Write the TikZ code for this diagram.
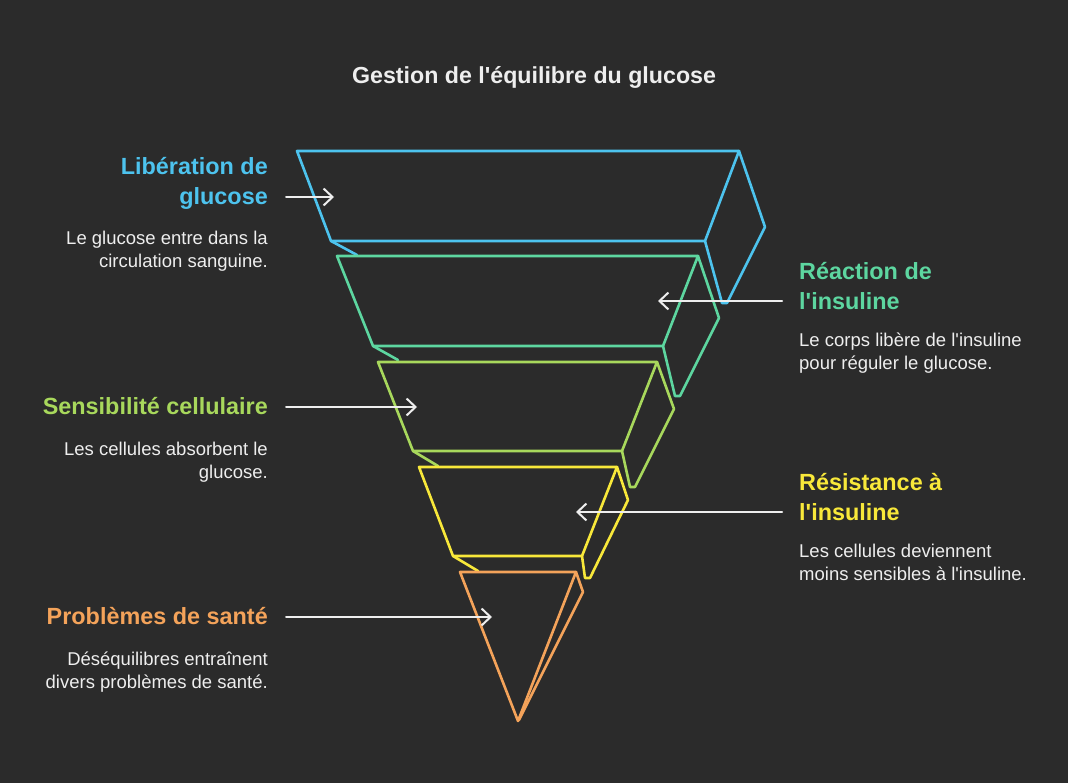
\documentclass[tikz,border=0pt]{standalone}
\usepackage{fontspec}
\setmainfont{Liberation Sans}[Ligatures=TeXOff]
\usetikzlibrary{arrows.meta}

\definecolor{bgcol}{HTML}{2B2B2B}
\definecolor{txtcol}{HTML}{EEEEEE}
\definecolor{blueL}{HTML}{4DC3EE}
\definecolor{greenL}{HTML}{5DD6A0}
\definecolor{limeL}{HTML}{A8D85C}
\definecolor{yellowL}{HTML}{F8E83A}
\definecolor{orangeL}{HTML}{F4A35A}

\begin{document}
\begin{tikzpicture}[x=1pt,y=-1pt,>={Straight Barb[length=9pt,width=17pt]},line join=round,line cap=round]
  \tikzstyle{layer}=[line width=2.6pt]
  \tikzstyle{pointer}=[->,draw=txtcol,line width=2pt]
  \tikzstyle{title}=[text=txtcol,font=\fontsize{23.2}{27}\selectfont\bfseries]
  \tikzstyle{head}=[inner sep=0pt,font=\fontsize{23.4}{30}\selectfont\bfseries]
  \tikzstyle{desc}=[inner sep=0pt,text=txtcol,font=\fontsize{18.5}{23}\selectfont]

  % Background and frame
  \fill[bgcol] (0,0) rectangle (1068,783);
  \useasboundingbox (0,0) rectangle (1068,783);

  \node[title, anchor=base] (ttl) at (534,84) {Gestion de l'équilibre du glucose};

  % Layer 1: blue block
  \draw[layer, blueL] (297,151) -- (739,151) -- (705,241) -- (331,241) -- cycle;
  \draw[layer, blueL] (739,151) -- (765,227) -- (727,303) -- (722,303) -- (705,241);
  \draw[layer, blueL] (331,241) -- (357,255);

  % Layer 2: green block
  \draw[layer, greenL] (337,256) -- (698,256) -- (663,346) -- (373,346) -- cycle;
  \draw[layer, greenL] (698,256) -- (719,318) -- (680,396) -- (675,396) -- (663,346);
  \draw[layer, greenL] (373,346) -- (398,360);

  % Layer 3: lime block
  \draw[layer, limeL] (378,362) -- (657,362) -- (622,451) -- (413,451) -- cycle;
  \draw[layer, limeL] (657,362) -- (674,409) -- (635,487) -- (630,487) -- (622,451);
  \draw[layer, limeL] (413,451) -- (438,466);

  % Layer 4: yellow block
  \draw[layer, yellowL] (419,467) -- (617,467) -- (582,556) -- (453,556) -- cycle;
  \draw[layer, yellowL] (617,467) -- (628,500) -- (590,578) -- (585,578) -- (582,556);
  \draw[layer, yellowL] (453,556) -- (478,571);

  % Layer 5: orange tip
  \draw[layer, orangeL] (460,572) -- (576,572) -- (518,721) -- cycle;
  \draw[layer, orangeL] (576,572) -- (583,592) -- (519,720);

  % Left labels (base = last line)
  \node[head, text=blueL, anchor=base east, align=right] (h1) at (268,205) {Libération de\\glucose};
  \node[desc, anchor=base east, align=right] (d1) at (268,268) {Le glucose entre dans la\\circulation sanguine.};

  \node[head, text=limeL, anchor=base east, align=right] (h3) at (268,414) {Sensibilité cellulaire};
  \node[desc, anchor=base east, align=right] (d3) at (268,478) {Les cellules absorbent le\\glucose.};

  \node[head, text=orangeL, anchor=base east, align=right] (h5) at (268,624) {Problèmes de santé};
  \node[desc, anchor=base east, align=right] (d5) at (268,688) {Déséquilibres entraînent\\divers problèmes de santé.};

  % Right labels
  \node[head, text=greenL, anchor=base west, align=left] (h2) at (799,310) {Réaction de\\l'insuline};
  \node[desc, anchor=base west, align=left] (d2) at (799,370) {Le corps libère de l'insuline\\pour réguler le glucose.};

  \node[head, text=yellowL, anchor=base west, align=left] (h4) at (799,520) {Résistance à\\l'insuline};
  \node[desc, anchor=base west, align=left] (d4) at (799,580) {Les cellules deviennent\\moins sensibles à l'insuline.};

  % Pointers into the layers
  \coordinate (s1) at (286,197); \coordinate (e1) at (334,197);
  \coordinate (s2) at (782,301); \coordinate (e2) at (658,301);
  \coordinate (s3) at (286,407); \coordinate (e3) at (417,407);
  \coordinate (s4) at (782,512); \coordinate (e4) at (576,512);
  \coordinate (s5) at (286,617); \coordinate (e5) at (492,617);
  \foreach \i in {1,...,5}
    \draw[pointer] (s\i) -- (e\i);
\end{tikzpicture}
\end{document}
